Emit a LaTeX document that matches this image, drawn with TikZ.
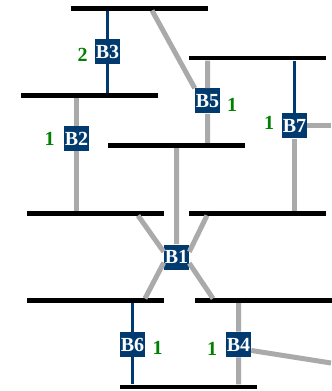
\documentclass[tikz,border=0pt]{standalone}
\usepackage{fontspec}
\setmainfont{Liberation Serif}
\definecolor{navy}{RGB}{0,58,110}
\definecolor{opengray}{RGB}{170,170,170}
\definecolor{numgreen}{RGB}{0,128,0}
\tikzset{
    bus/.style={fill=black, inner sep=0pt, minimum width=102.75pt, minimum height=3.4pt},
    brk/.style={fill=navy, text=white, font=\bfseries\fontsize{15}{15}\selectfont,
        inner sep=0pt, minimum size=18.75pt},
    cnt/.style={text=numgreen, font=\bfseries\fontsize{15}{15}\selectfont, inner sep=0pt},
    closed/.style={draw=navy, line width=2.6pt},
    opened/.style={draw=opengray, line width=3.75pt}
}
\begin{document}
\begin{tikzpicture}[x=0.75pt,y=-0.75pt]
        \useasboundingbox (0,0) rectangle (331,391);
        % busbars
        \node[bus] (busA) at (139,8.5) {};
        \node[bus] (busB) at (257.5,58) {};
        \node[bus] (busC) at (89.5,95.5) {};
        \node[bus] (busD) at (176.5,145.5) {};
        \node[bus] (busE) at (95.5,213.5) {};
        \node[bus] (busF) at (257.5,213.5) {};
        \node[bus] (busG) at (95.5,300.5) {};
        \node[bus] (busH) at (263.5,300.5) {};
        \node[bus] (busI) at (188.5,387) {};
        % breakers
        \node[brk] (b3) at (107.5,51.5) {B3};
        \node[brk] (b5) at (207.5,101) {B5};
        \node[brk] (b7) at (294.5,126) {B7};
        \node[brk] (b2) at (76.5,138.5) {B2};
        \node[brk] (b1) at (176.5,257) {B1};
        \node[brk] (b6) at (132.5,344.5) {B6};
        \node[brk] (b4) at (238.5,344.5) {B4};
        % counts
        \node[cnt] (n3) at (82.5,55) {2};
        \node[cnt] (n5) at (232,105) {1};
        \node[cnt] (n7) at (269,123) {1};
        \node[cnt] (n2) at (49.5,139) {1};
        \node[cnt] (n6) at (157.5,348) {1};
        \node[cnt] (n4) at (212,348.5) {1};
        % line ends
        \coordinate (a5) at (152,10.5);
        \coordinate (e1) at (138,215.5);
        \coordinate (f1) at (207,215.5);
        \coordinate (g1) at (145,298.5);
        \coordinate (h1) at (213,298.5);
        \coordinate (o7) at (331,126);
        \coordinate (o4) at (331,363);
        \draw[closed] (b3) -- (b3 |- busA.south) (b3) -- (b3 |- busC.north);
        \draw[closed] (b7) -- (b7 |- busB.south);
        \draw[closed] (b6) -- (b6 |- busG.south) (b6) -- (b6 |- busI.north);
        \draw[opened] (b5) -- (b5 |- busB.south) (b5) -- (b5 |- busD.north) (b5.north west) -- (a5);
        \draw[opened] (b7) -- (b7 |- busF.north) (b7) -- (o7);
        \draw[opened] (b2) -- (b2 |- busC.south) (b2) -- (b2 |- busE.north);
        \draw[opened] (b1) -- (b1 |- busD.south) (b1.158) -- (e1) (b1.22) -- (f1)
            (b1.204) -- (g1) (b1.334) -- (h1);
        \draw[opened] (b4) -- (b4 |- busH.south) (b4) -- (b4 |- busI.north) (b4.-25) -- (o4);
\end{tikzpicture}
\end{document}
